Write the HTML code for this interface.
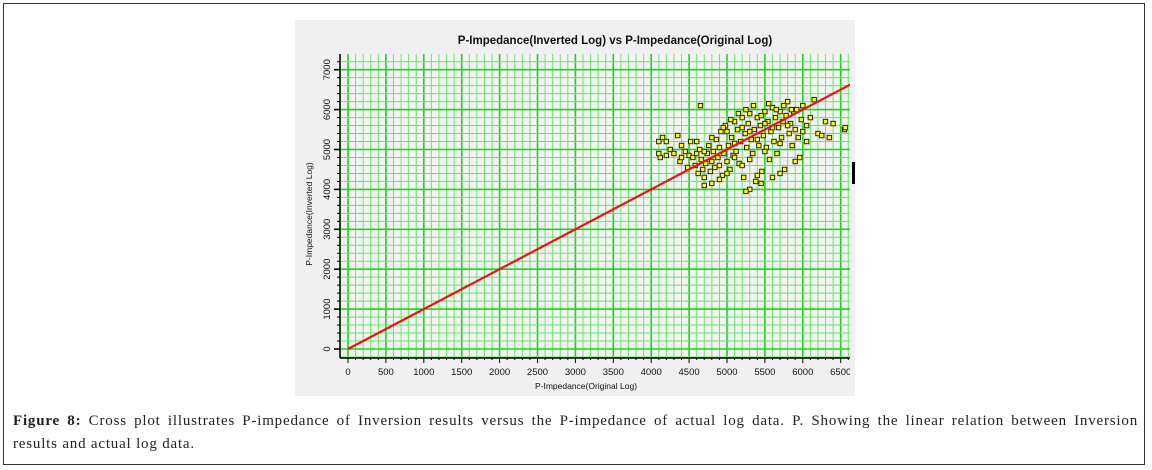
<!DOCTYPE html>
<html><head><meta charset="utf-8">
<style>
html,body{margin:0;padding:0;background:#fff;}
body{width:1152px;height:470px;position:relative;overflow:hidden;}
#frame{position:absolute;left:3px;top:3px;width:1142px;height:462px;border:1.5px solid #333;box-sizing:border-box;}
#chartbox{position:absolute;left:295px;top:20px;width:560px;height:376px;background:#f0f0f0;}
#caption{position:absolute;left:13px;top:410px;width:1125px;font-family:"Liberation Serif",serif;font-size:15px;letter-spacing:0.8px;line-height:23px;color:#222;}
#caption .l1{display:block;white-space:nowrap;text-align:justify;text-align-last:justify;}
#caption .l2{display:block;}
</style></head><body>
<div id="frame"></div>
<div id="chartbox">
<svg id="svg" width="560" height="376" xmlns="http://www.w3.org/2000/svg"></svg>
</div>
<div id="caption"><span class="l1"><b>Figure 8:</b> Cross plot illustrates P-impedance of Inversion results versus the P-impedance of actual log data. P. Showing the linear relation between Inversion</span><span class="l2">results and actual log data.</span></div>
<script>
const xTicks=[0,500,1000,1500,2000,2500,3000,3500,4000,4500,5000,5500,6000,6500];
const yTicks=[0,1000,2000,3000,4000,5000,6000,7000];
const fitLine=[[0,0],[6700,6700]];
const ptX=[4100,4120,4150,4200,4250,4300,4350,4380,4400,4450,4480,4500,4520,4550,4580,4600,4620,4640,4650,4660,4680,4700,4720,4740,4760,4780,4800,4820,4840,4860,4880,4900,4920,4940,4960,4980,5000,5020,5040,5060,5080,5100,5120,5140,5160,5180,5200,5220,5240,5260,5280,5300,5300,5320,5340,5360,5380,5400,5420,5440,5460,5480,5500,5520,5540,5560,5580,5600,5620,5640,5660,5680,5700,5720,5740,5760,5780,5800,5820,5840,5860,5880,5900,5920,5940,5960,5980,6000,6050,6100,6150,6200,6250,6300,6350,6400,6550,6560,4100,4200,4400,4600,4700,4800,4900,5000,5100,5200,5300,5400,5500,5600,5700,5800,5200,5000,4900,4700,5400,5600,5100,5300,5500,4800,5700,5900,5450,5350,5150,5050,4950,5250,5550,5650,5750,5850,6000,6050,5250,5450];
const ptY=[5200,4800,5300,4850,5000,4900,5350,4700,5100,4950,4550,4850,5200,4800,4600,4900,4400,5000,6100,4750,4500,4300,4650,4900,5100,4450,4700,4950,4550,5250,4800,4600,5450,4350,4900,5600,4700,5100,4500,5300,4850,5700,4950,5500,4650,5200,5800,4300,5400,5050,5650,4000,5900,5250,4900,5500,4200,5800,5100,5600,4450,5350,5950,5050,5700,4750,5450,6050,5200,5800,4900,5550,5950,5300,5700,4500,5850,6200,5400,5650,5100,5950,5500,6000,5300,4800,5750,6100,5600,5800,6250,5400,5350,5700,5300,5650,5500,5550,4900,5200,4800,5200,4950,5300,5050,5450,5150,5550,5450,5250,5650,5550,5150,5600,4600,4400,4250,4100,4350,4300,4800,4750,4950,4150,4400,4700,5850,6100,5900,5750,5550,6000,6150,6000,6100,6000,5450,5200,3950,4150];

const NS='http://www.w3.org/2000/svg';
const svg=document.getElementById('svg');
const PL=45,PR=555,PT=34,PB=338;
const sx=v=>53+v*0.0758;
const sy=v=>329-v*0.0399;
function mk(t,a){const e=document.createElementNS(NS,t);for(const k in a)e.setAttribute(k,a[k]);svg.appendChild(e);return e;}
const bg=mk('rect',{x:PL,y:PT,width:PR-PL,height:PB-PT,fill:'#f2f2f2'});


for(let v=-100;v<=6700;v+=100){const x=sx(v);if(x<PL||x>PR)continue;const major=v%500===0;
 const l=mk('line',{x1:x,x2:x,y1:PT,y2:PB,stroke:major?'#1ed41e':'#66e866','stroke-width':major?1.6:1});
 
 }
for(let v=-400;v<=7400;v+=200){const y=sy(v);if(y<PT||y>PB)continue;const major=v%1000===0;
 const l=mk('line',{x1:PL,x2:PR,y1:y,y2:y,stroke:major?'#1ed41e':'#66e866','stroke-width':major?1.6:1});
 
 }
const ax=mk('line',{x1:PL,x2:PR,y1:PB,y2:PB,stroke:'#000','stroke-width':1.5});


const ay=mk('line',{x1:PL,x2:PL,y1:PT,y2:PB,stroke:'#000','stroke-width':1.5});


for(let v=0;v<=6700;v+=100){const x=sx(v);const t=mk('line',{x1:x,x2:x,y1:PB,y2:PB+(v%500===0?5:2),stroke:'#000'});
 
 }
xTicks.forEach(v=>{const t=mk('text',{x:sx(v),y:PB+17,'text-anchor':'middle','font-family':'Liberation Sans, sans-serif','font-size':9.5,fill:'#111'});t.textContent=v;
 
 });
for(let v=0;v<=7400;v+=200){const y=sy(v);if(y<PT)continue;const t=mk('line',{x1:PL-(v%1000===0?6:3),x2:PL,y1:y,y2:y,stroke:'#000','stroke-width':v%1000===0?1.6:1});
 
 }
yTicks.forEach(v=>{const y=sy(v);const t=mk('text',{x:0,y:0,transform:`translate(${PL-10},${y}) rotate(-90)`,'text-anchor':'middle','font-family':'Liberation Sans, sans-serif','font-size':9.5,fill:'#111'});t.textContent=v;
 
 });
for(let i=0;i<ptX.length;i++){const r=mk('rect',{x:sx(ptX[i])-2.2,y:sy(ptY[i])-2.2,width:4.4,height:4.4,fill:'#ffff00',stroke:'#222','stroke-width':1});
 
 }
const fl=mk('line',{x1:sx(fitLine[0][0]),y1:sy(fitLine[0][1]),x2:sx(fitLine[1][0]),y2:sy(fitLine[1][1]),stroke:'#e81414','stroke-width':2.2});


const cov=mk('rect',{x:PR,y:0,width:10,height:376,fill:'#f0f0f0'});


const mark=mk('rect',{x:557,y:142,width:3,height:22,fill:'#000'});


const tt=mk('text',{x:320,y:24,'text-anchor':'middle','font-family':'Liberation Sans, sans-serif','font-size':11.5,'font-weight':'bold',fill:'#111'});
tt.textContent='P-Impedance(Inverted Log) vs P-Impedance(Original Log)';


const xt=mk('text',{x:291,y:369,'text-anchor':'middle','font-family':'Liberation Sans, sans-serif','font-size':8.5,fill:'#111'});
xt.textContent='P-Impedance(Original Log)';


const yt=mk('text',{x:0,y:0,transform:'translate(17,194) rotate(-90)','text-anchor':'middle','font-family':'Liberation Sans, sans-serif','font-size':8.5,fill:'#111'});
yt.textContent='P-Impedance(Inverted Log)';


</script>
</body></html>
